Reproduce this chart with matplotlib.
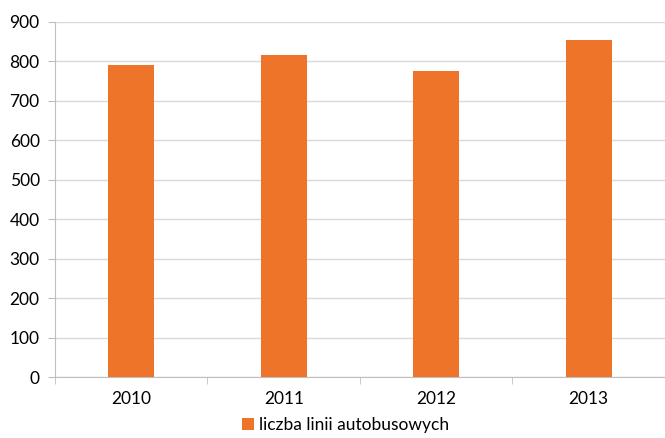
import matplotlib
matplotlib.use("Agg")
import matplotlib.pyplot as plt
import numpy as np

years = ["2010", "2011", "2012", "2013"]
lines = [792, 816, 776, 854]
series_name = "liczba linii autobusowych"

plt.rcParams['font.family'] = ['Lato', 'DejaVu Sans']

fig = plt.figure(figsize=(6.65, 4.38), dpi=100)
ax = fig.add_axes([0.0827, 0.139, 0.9173, 0.811])

x = np.arange(len(years))
bars = ax.bar(x, lines, width=0.3, color="#EE7429", label=series_name, zorder=3)

ax.set_xlim(-0.5, len(years) - 0.5)
ax.set_ylim(0, 900)
ax.set_yticks(range(0, 901, 100))
ax.yaxis.grid(True, color="#D9D9D9", linewidth=1, zorder=0)

ax.set_xticks(x)
ax.set_xticklabels(years, fontsize=12.5)
ax.tick_params(axis="x", length=0, pad=10)
ax.set_xticks(np.arange(-0.5, len(years)), minor=True)
ax.tick_params(axis="x", which="minor", length=5, color="#BFBFBF")
ax.tick_params(axis="y", labelsize=12.5, length=5, color="#BFBFBF", pad=6)

for side in ["top", "right"]:
    ax.spines[side].set_visible(False)
ax.spines["left"].set_color("#BFBFBF")
ax.spines["bottom"].set_color("#BFBFBF")

fig.legend(handles=[bars], labels=[series_name], loc="lower center",
           bbox_to_anchor=(0.52, -0.025), frameon=False, fontsize=12.5,
           handlelength=0.7, handleheight=0.7, handletextpad=0.3)

fig.savefig("out.png", dpi=100)
